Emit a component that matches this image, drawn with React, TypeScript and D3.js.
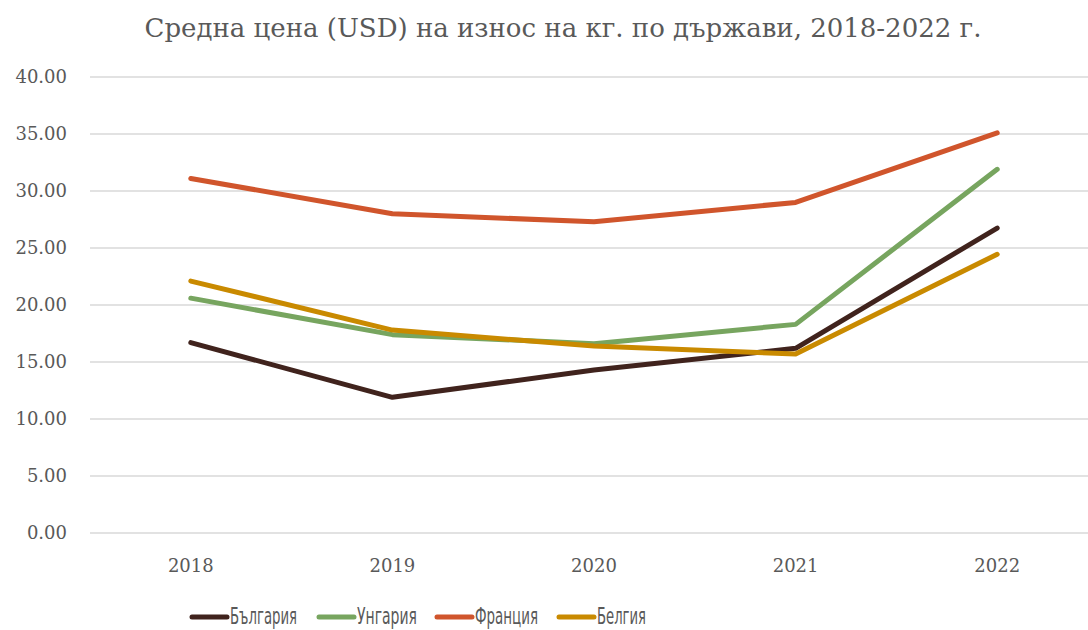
import React, { useEffect, useRef } from 'react';
import * as d3 from 'd3';

// Data
const years = ['2018', '2019', '2020', '2021', '2022'];
const seriesNames = ['България', 'Унгария', 'Франция', 'Белгия'];
const bulgaria = [16.7, 11.9, 14.3, 16.2, 26.75];
const hungary = [20.6, 17.4, 16.6, 18.3, 31.9];
const france = [31.1, 28.0, 27.3, 29.0, 35.1];
const belgium = [22.1, 17.8, 16.4, 15.7, 24.45];
const seriesColors = ['#40231d', '#77a55f', '#d0552c', '#c98a00'];
const yTicks = [0, 5, 10, 15, 20, 25, 30, 35, 40];

const App = () => {
  const chartRef = useRef<HTMLDivElement>(null);

  useEffect(() => {
    const W = 1088;
    const H = 630;
    const values = [bulgaria, hungary, france, belgium];
    const serifFont = "'DejaVu Serif', 'Liberation Serif', serif";
    const legendFont = "'DejaVu Sans Condensed', 'Liberation Sans Narrow', 'Liberation Sans', sans-serif";

    d3.select(chartRef.current).select('svg').remove();

    const svg = d3.select(chartRef.current)
      .append('svg')
      .attr('width', W)
      .attr('height', H)
      .style('position', 'absolute')
      .style('left', '0px')
      .style('top', '0px')
      .style('background', '#fff');

    // Scales
    const x = d3.scaleBand()
      .domain(years)
      .range([90, 1098]);

    const y = d3.scaleLinear()
      .domain([0, 40])
      .range([533, 77]);

    // Gridlines
    svg.append('g')
      .selectAll('line')
      .data(yTicks)
      .enter()
      .append('line')
      .attr('x1', 90)
      .attr('x2', 1098)
      .attr('y1', d => y(d))
      .attr('y2', d => y(d))
      .attr('stroke', '#d9d9d9')
      .attr('stroke-width', 1.5);

    // Y axis labels
    svg.append('g')
      .selectAll('text')
      .data(yTicks)
      .enter()
      .append('text')
      .attr('x', 67)
      .attr('y', d => y(d))
      .attr('dy', '0.35em')
      .attr('text-anchor', 'end')
      .attr('fill', '#595959')
      .attr('font-family', serifFont)
      .attr('font-size', '18px')
      .text(d => d.toFixed(2));

    // X axis labels
    svg.append('g')
      .selectAll('text')
      .data(years)
      .enter()
      .append('text')
      .attr('x', d => (x(d) as number) + x.bandwidth() / 2)
      .attr('y', 566)
      .attr('dy', '0.35em')
      .attr('text-anchor', 'middle')
      .attr('fill', '#595959')
      .attr('font-family', serifFont)
      .attr('font-size', '18px')
      .text(d => d);

    // Lines
    const line = d3.line<number>()
      .x((d, i) => (x(years[i]) as number) + x.bandwidth() / 2)
      .y(d => y(d));

    values.forEach((vals, i) => {
      svg.append('path')
        .datum(vals)
        .attr('d', line)
        .attr('fill', 'none')
        .attr('stroke', seriesColors[i])
        .attr('stroke-width', 5)
        .attr('stroke-linecap', 'round')
        .attr('stroke-linejoin', 'round');
    });

    // Title
    svg.append('text')
      .attr('x', 563)
      .attr('y', 28)
      .attr('dy', '0.35em')
      .attr('text-anchor', 'middle')
      .attr('fill', '#595959')
      .attr('font-family', serifFont)
      .attr('font-size', '26px')
      .text('Средна цена (USD) на износ на кг. по държави, 2018-2022 г.');

    // Legend (text squeezed to the narrow face of the original)
    const legendX = [192, 319, 437, 559];
    const legendTextW = [67, 60, 63, 49];
    seriesNames.forEach((name, i) => {
      const g = svg.append('g')
        .attr('transform', `translate(${legendX[i]},617)`);
      g.append('line')
        .attr('x1', 0)
        .attr('x2', 35)
        .attr('y1', 0)
        .attr('y2', 0)
        .attr('stroke', seriesColors[i])
        .attr('stroke-width', 5)
        .attr('stroke-linecap', 'round');
      g.append('text')
        .attr('x', 38)
        .attr('y', 7)
        .attr('fill', '#595959')
        .attr('font-family', legendFont)
        .attr('font-size', '23px')
        .attr('textLength', legendTextW[i])
        .attr('lengthAdjust', 'spacingAndGlyphs')
        .text(name);
    });
  }, []);

  return (
    <div ref={chartRef}></div>
  );
};

export default App;
